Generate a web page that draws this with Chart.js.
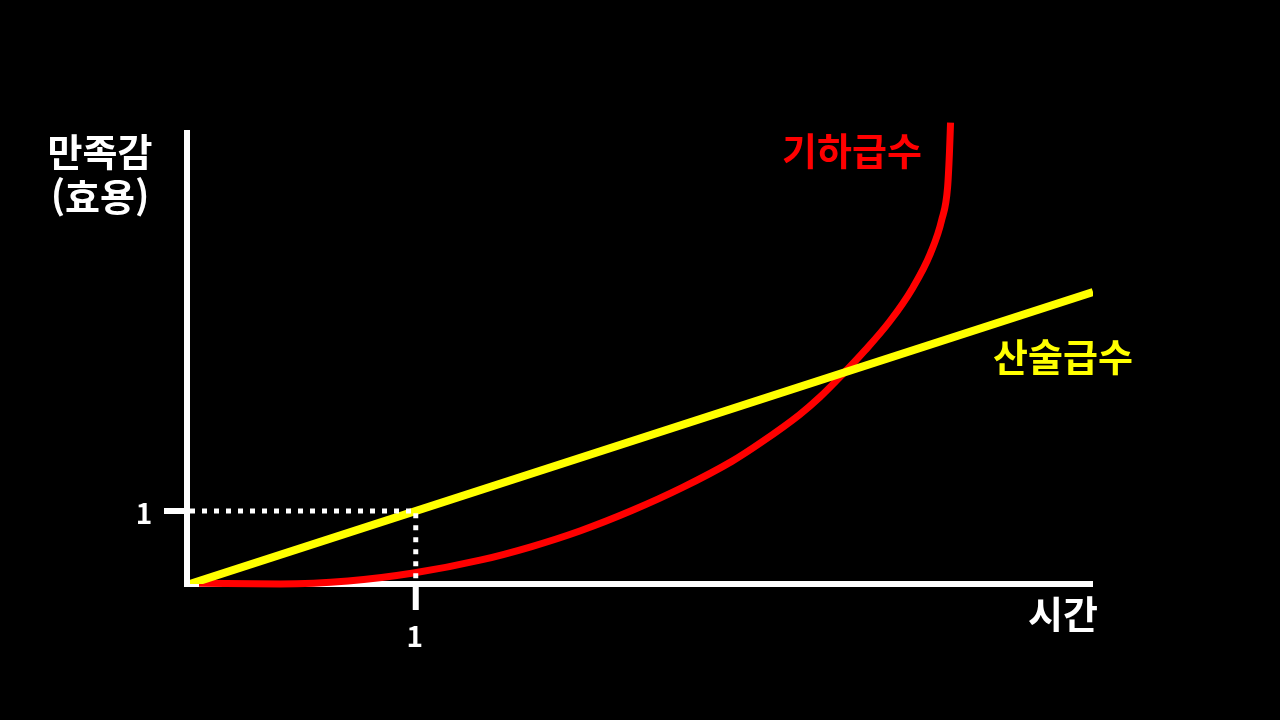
<!DOCTYPE html>
<html lang="ko">
<head>
<meta charset="UTF-8">
<title>산술급수 vs 기하급수</title>
<script src="https://cdn.jsdelivr.net/npm/chart.js"></script>
<style>
  html, body { margin: 0; padding: 0; background: #000; }
  #wrap { width: 1280px; height: 720px; }
</style>
</head>
<body>
<div id="wrap"><canvas id="utilChart" width="1280" height="720"></canvas></div>
<script>
  // data (x = 시간, y = 만족감)
  const arithX = [0, 4.0];
  const arithY = [0, 4.0];
  const geoX = [0.04, 0.40, 0.70, 0.99, 1.29, 1.51, 1.73, 1.96, 2.18, 2.40, 2.53, 2.70, 2.79, 2.89, 2.99, 3.10, 3.20, 3.28, 3.33, 3.356, 3.364, 3.369];
  const geoY = [0.01, 0.00, 0.04, 0.15, 0.33, 0.51, 0.73, 1.01, 1.32, 1.68, 1.94, 2.32, 2.56, 2.87, 3.20, 3.60, 4.05, 4.53, 4.99, 5.44, 5.90, 6.32];
  const guideX = [0, 1, 1];
  const guideY = [1, 1, 0];
  const xTicks = [1];
  const yTicks = [1];
  const xTitle = '시간';
  const yTitle = ['만족감', '(효용)'];
  const arithLabel = '산술급수';
  const geoLabel = '기하급수';

  const toPts = (xs, ys) => xs.map((x, i) => ({ x: x, y: ys[i] }));
  const KR = '"Noto Sans CJK KR", "Noto Sans", sans-serif';

  // axes, ticks and text drawn from the scales
  const decor = {
    id: 'decor',
    beforeDatasetsDraw(chart) {
      const { ctx, scales: { x, y } } = chart;
      const x0 = x.getPixelForValue(0), y0 = y.getPixelForValue(0);
      ctx.save();
      ctx.strokeStyle = '#fff';
      ctx.lineWidth = 6;
      ctx.beginPath();
      ctx.moveTo(x0 - 3, y.getPixelForValue(6.22));
      ctx.lineTo(x0 - 3, y0 + 3);
      ctx.moveTo(x0 - 6, y0);
      ctx.lineTo(x.getPixelForValue(4.0), y0);
      ctx.stroke();
      ctx.fillStyle = '#fff';
      ctx.font = 'bold 28px ' + KR;
      ctx.textAlign = 'center';
      ctx.textBaseline = 'middle';
      yTicks.forEach(v => {
        const py = y.getPixelForValue(v);
        ctx.beginPath();
        ctx.moveTo(x0 - 26, py);
        ctx.lineTo(x0, py);
        ctx.stroke();
        ctx.fillText(String(v), x0 - 46, py + 2);
      });
      xTicks.forEach(v => {
        const px = x.getPixelForValue(v);
        ctx.beginPath();
        ctx.moveTo(px, y0);
        ctx.lineTo(px, y0 + 26);
        ctx.stroke();
        ctx.fillText(String(v), px - 1, y0 + 52);
      });
      ctx.restore();
    },
    afterDraw(chart) {
      const { ctx } = chart;
      ctx.save();
      ctx.textAlign = 'center';
      ctx.textBaseline = 'middle';
      ctx.font = 'bold 38px ' + KR;
      ctx.fillStyle = '#fff';
      ctx.fillText(yTitle[0], 100, 152);
      ctx.fillText(yTitle[1], 100, 197);
      ctx.fillText(xTitle, 1063, 614);
      ctx.fillStyle = '#ff0000';
      ctx.fillText(geoLabel, 852, 151);
      ctx.fillStyle = '#ffff00';
      ctx.fillText(arithLabel, 1063, 357);
      ctx.restore();
    }
  };

  new Chart(document.getElementById('utilChart').getContext('2d'), {
    type: 'scatter',
    data: {
      datasets: [
        {
          label: 'guide',
          data: toPts(guideX, guideY),
          showLine: true,
          borderColor: '#fff',
          borderWidth: 5,
          borderDash: [5, 7],
          borderCapStyle: 'butt',
          pointRadius: 0
        },
        {
          label: arithLabel,
          data: toPts(arithX, arithY),
          showLine: true,
          borderColor: '#ffff00',
          borderWidth: 8,
          pointRadius: 0
        },
        {
          label: geoLabel,
          data: toPts(geoX, geoY),
          showLine: true,
          borderColor: '#ff0000',
          borderWidth: 7,
          cubicInterpolationMode: 'monotone',
          pointRadius: 0,
          clip: false
        }
      ]
    },
    options: {
      responsive: false,
      animation: false,
      layout: { padding: { left: 190, right: 187, top: 122, bottom: 136 } },
      scales: {
        x: { type: 'linear', min: 0, max: 4.0, display: false },
        y: { type: 'linear', min: 0, max: 6.33, display: false }
      },
      plugins: { legend: { display: false }, tooltip: { enabled: false } }
    },
    plugins: [decor]
  });
</script>
</body>
</html>
